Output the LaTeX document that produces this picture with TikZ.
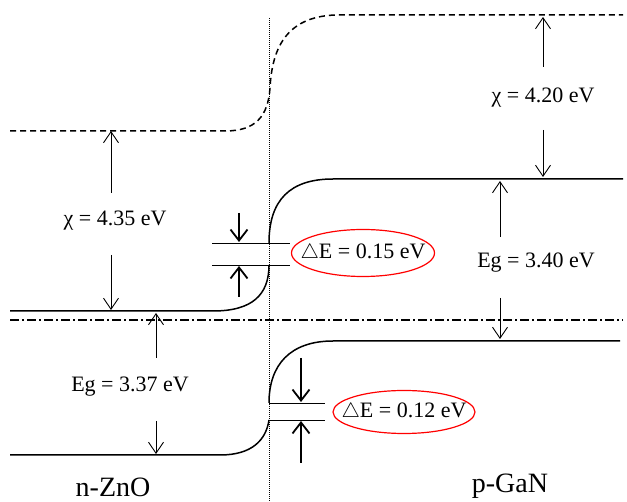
\documentclass[tikz,border=0pt]{standalone}
\usepackage{fontspec}
\setmainfont{Liberation Serif}
\usetikzlibrary{arrows.meta}
\tikzset{band/.style={line width=1.5pt},
  vac/.style={band,dash pattern=on 6pt off 4pt},
  fermi/.style={line width=1.2pt,dash pattern=on 9pt off 3pt on 2pt off 3pt},
  arr/.style={line width=0.9pt,-{Straight Barb[length=11pt,width=15pt,line width=0.9pt]}},
  boldarr/.style={line width=1.8pt,-{Straight Barb[length=11pt,width=17pt,line width=1.8pt]}},
  lbl/.style={font=\fontsize{22}{26}\selectfont,inner sep=0pt},
  side/.style={font=\fontsize{28}{32}\selectfont,inner sep=0pt},
  ring/.style={draw=red,line width=1.2pt}}

\begin{document}
\begin{tikzpicture}[x=1pt,y=-1pt]
\useasboundingbox (0,0) rectangle (627,502);

% interface
\coordinate (top) at (269,18);
\coordinate (bot) at (269,502);
\draw[line width=0.8pt,dash pattern=on 1pt off 1pt] (top) -- (bot);

% bands
\draw[vac] (10,131) -- (225,131) .. controls (256,131) and (268,116) .. (270,88)
  .. controls (272,50) and (285,17) .. (335,15) -- (623,15);
\draw[band] (10,311) -- (213,311) .. controls (252,311) and (269,295) .. (269,265);
\draw[band] (269,243) .. controls (269,200) and (290,179) .. (333,179) -- (623,179);
\draw[band] (10,455) -- (220,455) .. controls (252,455) and (266,440) .. (269,420);
\draw[band] (269,403) .. controls (269,365) and (290,341) .. (333,341) -- (620,341);
\draw[fermi] (10,320) -- (623,320);

% offset marks
\foreach \n/\xa/\xb/\y in {ca/212/290/243,cb/212/290/265,va/269/325/403,vb/269/325/420}{
  \coordinate (\n l) at (\xa,\y);
  \coordinate (\n r) at (\xb,\y);
  \draw[line width=0.9pt] (\n l) -- (\n r);
}

% arrows
\foreach \n/\x/\ya/\yb in {chil/111/193/131,chid/111/255/310,egl/156/358/313,egd/156/421/454,
    chir/543/67/17,chiq/543/130/177,egr/500/237/181,egq/500/298/339}{
  \coordinate (\n s) at (\x,\ya);
  \coordinate (\n e) at (\x,\yb);
  \draw[arr] (\n s) -- (\n e);
}
\foreach \n/\x/\ya/\yb in {dca/239/213/242,dcb/239/297/266,dva/301/358/402,dvb/301/463/421}{
  \coordinate (\n s) at (\x,\ya);
  \coordinate (\n e) at (\x,\yb);
  \draw[boldarr] (\n s) -- (\n e);
}

% labels
\node[lbl] (chiZnO) at (115,221) {χ = 4.35 eV};
\node[lbl] (egZnO) at (130,387) {Eg = 3.37 eV};
\node[lbl] (chiGaN) at (543,98) {χ = 4.20 eV};
\node[lbl] (egGaN) at (536,263) {Eg = 3.40 eV};
\node[lbl] (dEc) at (363,253) {$\triangle$E = 0.15 eV};
\node[lbl] (dEv) at (404,412) {$\triangle$E = 0.12 eV};
\draw[ring] (dEc.center) ellipse [x radius=71.5pt,y radius=23.5pt];
\draw[ring] (dEv.center) ellipse [x radius=71pt,y radius=21.5pt];
\node[side] (nZnO) at (113,487) {n-ZnO};
\node[side] (pGaN) at (510,486) {p-GaN};
\end{tikzpicture}
\end{document}
